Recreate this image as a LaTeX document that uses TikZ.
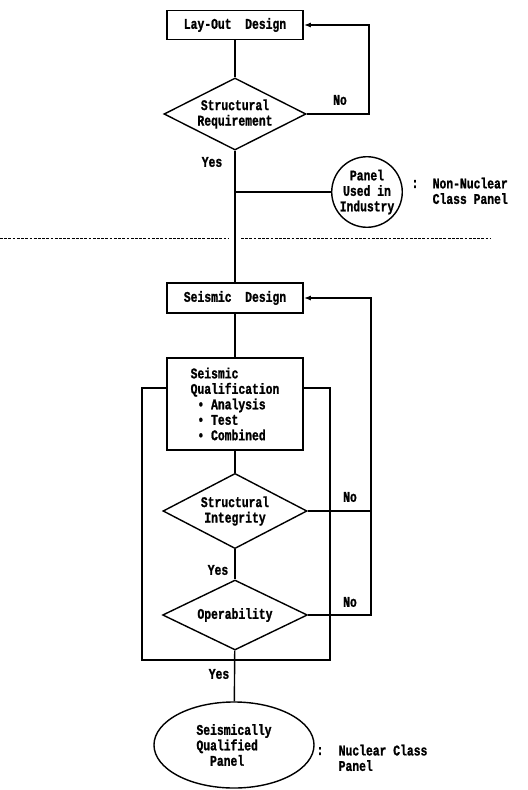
\documentclass[tikz,border=0pt]{standalone}
\usepackage{fontspec}
\usepackage{tikz}
\usetikzlibrary{shapes.geometric, arrows.meta, calc}
\newfontfamily\chartfont{Liberation Mono}[FakeStretch=0.77, BoldFeatures={FakeBold=1.2}]

\begin{document}
\begin{tikzpicture}[x=0.025cm, y=-0.025cm, line width=1pt,  % 1 unit = 1 pixel
  font=\chartfont\bfseries\fontsize{10.5}{11}\selectfont,
  box/.style={draw, rectangle, minimum width=3.4cm, inner sep=2pt},
  decision/.style={draw, diamond, aspect=2, inner sep=1pt, align=center},
  back/.style={-{Latex[length=5pt,width=3.5pt]}},
  lbl/.style={inner sep=0pt}]
\useasboundingbox (0,0) rectangle (527,790);  % page size

% Upper part
\node[box, minimum height=0.73cm] (layout) at (235,25) {Lay-Out~~Design};
\node[decision, minimum width=3.55cm, minimum height=1.8cm] (req) at (235,114) {Structural\\Requirement};
\node[draw, circle, inner sep=0pt, minimum size=1.5cm, align=center] (panel) at (367,192) {Panel\\Used in\\Industry};
\node[lbl] (col1) at (415,184) {:};
\node[lbl, anchor=north west, align=left] (nonnuc) at (432,177) {Non-Nuclear\\Class Panel};

% Lower part
\node[box, minimum height=0.75cm] (seis) at (235,298) {Seismic~~Design};
\node[box, minimum height=2.3cm, align=left] (qual) at (235,404) {Seismic\\Qualification\\\hspace*{.46em}\textbullet\ Analysis\\\hspace*{.46em}\textbullet\ Test\\\hspace*{.46em}\textbullet\ Combined};
\node[decision, minimum width=3.6cm, minimum height=1.88cm] (integ) at (235,511) {Structural\\Integrity};
\node[decision, minimum width=3.62cm, minimum height=1.75cm] (oper) at (235,615) {Operability};
\node[draw, ellipse, minimum width=4cm, minimum height=2.15cm, align=left] (sqp) at (234,745) {Seismically\\Qualified\\\hspace*{.92em}Panel};
\node[lbl] (col2) at (320,751) {:};
\node[lbl, anchor=north west, align=left] (nuc) at (338,744) {Nuclear Class\\Panel};

% Main flow
\draw (layout) -- (req);
\draw (req) -- (seis);
\draw (seis) -- (qual);
\draw (qual) -- (integ);
\draw (integ) -- (oper);
\draw (oper) -- (sqp);
\draw (req.south |- panel.west) -- (panel.west);  % branch to panel
\node[lbl] (yes1) at (212,162) {Yes};
\node[lbl] (yes2) at (218,570) {Yes};
\node[lbl] (yes3) at (219,674) {Yes};

% Separator
\draw[dash pattern=on 2pt off 1pt, line width=0.6pt] (0,238) -- (228,238) (241,238) -- (490,238);

% Feedback loops
\coordinate (fbtop) at (369,0);
\draw[back] (req.east) -- (req.east -| fbtop) -- (fbtop |- layout.east) -- (layout.east);
\node[lbl] (no1) at (340,100) {No};
\coordinate (fbbot) at (371,0);
\draw (integ.east) -- (integ.east -| fbbot);
\draw[back] (oper.east) -- (oper.east -| fbbot) -- (fbbot |- seis.east) -- (seis.east);
\node[lbl] (no2) at (350,497) {No};
\node[lbl] (no3) at (350,602) {No};

% Outer loop round qualification
\coordinate (loopL) at (142,388);
\coordinate (loopR) at (330,660);
\draw (qual.west |- loopL) -- (loopL) |- (loopR) -- (loopR |- loopL) -- (qual.east |- loopL);
\end{tikzpicture}
\end{document}
